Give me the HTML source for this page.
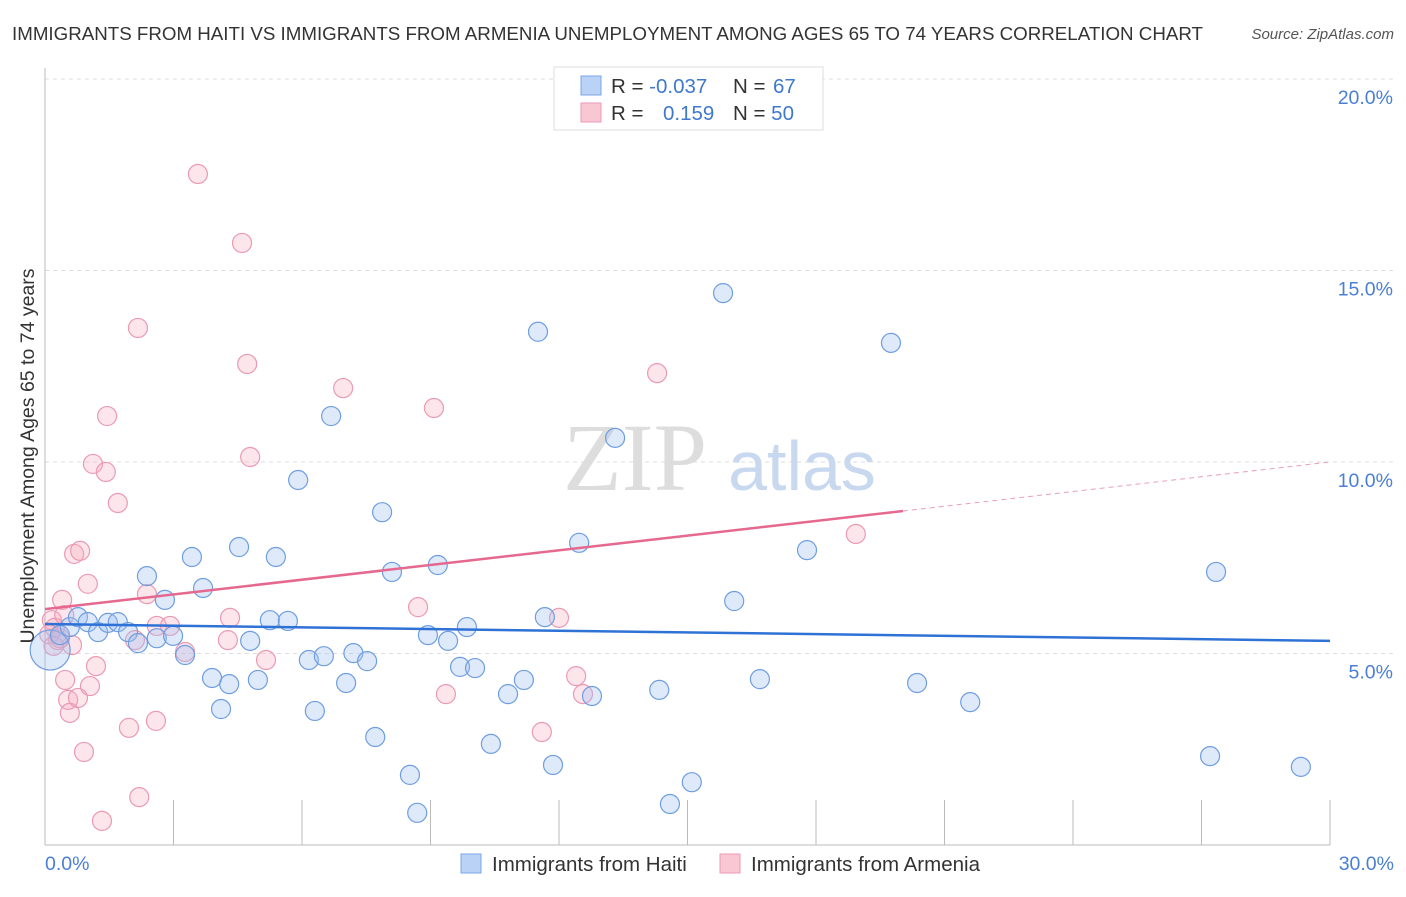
<!DOCTYPE html>
<html><head><meta charset="utf-8"><style>
body{margin:0;background:#fff;font-family:"Liberation Sans",sans-serif;}
</style></head><body>
<svg width="1406" height="892" viewBox="0 0 1406 892" xmlns="http://www.w3.org/2000/svg" font-family="Liberation Sans, sans-serif">
<text x="12" y="40" font-size="18.5" fill="#333" textLength="1191" lengthAdjust="spacingAndGlyphs">IMMIGRANTS FROM HAITI VS IMMIGRANTS FROM ARMENIA UNEMPLOYMENT AMONG AGES 65 TO 74 YEARS CORRELATION CHART</text>
<text x="1394" y="39" font-size="15" fill="#555" font-style="italic" text-anchor="end">Source: ZipAtlas.com</text>
<g id="grid"></g>
<g><text x="635" y="490" font-size="96" font-family="Liberation Serif, serif" fill="#ddd" text-anchor="middle">ZIP</text><text x="802" y="490" font-size="70" fill="#c8d8ef" text-anchor="middle">atlas</text></g>
<line x1="45" y1="68" x2="45" y2="845" stroke="#bbb"/>
<line x1="45" y1="845" x2="1330" y2="845" stroke="#bbb"/>
<g id="ticks"></g>
<g id="pts"></g>
<g id="lines"></g>
<text x="45" y="870" font-size="19.5" fill="#4a7fd4">0.0%</text>
<text x="1394" y="870" font-size="19.5" fill="#4a7fd4" text-anchor="end">30.0%</text>
<text transform="translate(34,456) rotate(-90)" font-size="19.5" fill="#333" text-anchor="middle">Unemployment Among Ages 65 to 74 years</text>
<g>
<rect x="554" y="67" width="269" height="63" fill="#fff" stroke="#ddd"/>
<rect x="581" y="76" width="20" height="19" fill="#b9d2f5" stroke="#7aa6e6"/>
<rect x="581" y="103" width="20" height="19" fill="#f9c6d4" stroke="#ec9ab3"/>
<text x="611" y="93" font-size="20.5" fill="#333">R = <tspan fill="#3f78cf">-0.037</tspan></text>
<text x="733" y="93" font-size="20.5" fill="#333">N = <tspan fill="#3f78cf" x="773">67</tspan></text>
<text x="611" y="120" font-size="20.5" fill="#333">R = <tspan fill="#3f78cf" x="663">0.159</tspan></text>
<text x="733" y="120" font-size="20.5" fill="#333">N = <tspan fill="#3f78cf">50</tspan></text>
</g>
<g>
<rect x="461" y="854" width="20" height="19" fill="#b9d2f5" stroke="#7aa6e6"/>
<text x="492" y="871" font-size="20.5" fill="#333">Immigrants from Haiti</text>
<rect x="720" y="854" width="20" height="19" fill="#f9c6d4" stroke="#ec9ab3"/>
<text x="751" y="871" font-size="20.5" fill="#333">Immigrants from Armenia</text>
</g>
</svg>
<script>
const yTicks=[5,10,15,20];
const yTickLabels=["5.0%","10.0%","15.0%","20.0%"];
const xTicks=[0,3,6,9,12,15,18,21,24,27,30];
const haitiX=[0.12,0.35,0.58,0.77,1.0,1.24,1.47,1.7,1.94,2.17,2.38,2.61,2.8,2.99,3.27,3.43,3.69,3.9,4.11,4.3,4.53,4.79,4.97,5.25,5.39,5.67,5.91,6.16,6.3,6.51,6.68,7.03,7.2,7.52,7.71,7.87,8.1,8.52,8.69,8.94,9.17,9.41,9.69,9.85,10.04,10.41,10.81,11.18,11.51,11.67,11.86,12.47,12.77,13.31,14.34,14.59,15.1,15.83,16.09,16.69,17.79,19.75,20.36,21.6,27.34,27.2,29.32];
const haitiY=[5.09,5.48,5.69,5.95,5.82,5.56,5.8,5.82,5.56,5.27,7.02,5.4,6.4,5.46,4.96,7.52,6.71,4.36,3.55,4.2,7.78,5.33,4.31,5.87,7.52,5.85,9.53,4.83,3.5,4.93,11.2,4.23,5.01,4.8,2.82,8.69,7.13,1.83,0.84,5.48,7.31,5.33,4.65,5.69,4.62,2.64,3.94,4.31,13.4,5.95,2.09,7.89,3.89,10.63,4.05,1.07,1.64,14.41,6.37,4.33,7.7,13.11,4.23,3.73,7.13,2.32,2.04];
const armeniaX=[0.16,0.23,0.3,0.4,0.47,0.54,0.58,0.63,0.68,0.82,0.77,0.91,1.0,1.05,1.12,1.19,1.33,1.42,1.45,1.7,1.96,2.17,2.2,2.38,2.59,2.61,2.92,3.27,3.57,4.27,4.32,4.6,4.72,4.79,5.16,6.96,8.71,9.08,9.36,11.6,12.0,12.4,12.56,14.29,18.93,2.1,0.1,0.35,0.2,0.45];
const armeniaY=[5.87,5.67,5.35,6.4,4.31,3.79,3.45,5.22,7.6,7.68,3.84,2.43,6.82,4.15,9.95,4.67,0.63,9.74,11.2,8.93,3.06,13.5,1.25,6.55,3.24,5.72,5.72,5.04,17.52,5.35,5.93,15.72,12.56,10.13,4.83,11.93,6.21,11.41,3.94,2.95,5.93,4.41,3.94,12.32,8.12,5.35,5.5,5.4,5.2,6.0];
const haitiTrend=[[0,5.77],[30,5.33]];
const armeniaTrend=[[0,6.16],[20.03,8.72],[30,10.0]];
const NS="http://www.w3.org/2000/svg";
const sx=v=>45+v/30*1285, sy=v=>845-v*38.3;
function mk(t,a,p){const e=document.createElementNS(NS,t);for(const k in a)e.setAttribute(k,a[k]);p.appendChild(e);return e;}
const grid=document.getElementById('grid');
yTicks.forEach((t,i)=>{const l=mk('line',{x1:45,x2:1394,y1:sy(t),y2:sy(t),stroke:'#ddd','stroke-dasharray':'4,4'},grid);


const tx=mk('text',{x:1393,y:sy(t)+25,'font-size':19.5,fill:'#4a7fd4','text-anchor':'end'},grid);tx.textContent=yTickLabels[i];

});
const tk=document.getElementById('ticks');
xTicks.forEach(t=>{const l=mk('line',{x1:sx(t),x2:sx(t),y1:800,y2:845,stroke:'#bbb'},tk);

});
const pts=document.getElementById('pts');
armeniaX.forEach((x,i)=>{const c=mk('circle',{cx:sx(x),cy:sy(armeniaY[i]),r:9.5,fill:'rgba(244,168,190,0.3)',stroke:'#eb9ab3','stroke-width':1.2},pts);

});
haitiX.forEach((x,i)=>{const c=mk('circle',{cx:sx(x),cy:sy(haitiY[i]),r:i==0?20:9.5,fill:'rgba(160,192,240,0.35)',stroke:'#6f9ee0','stroke-width':1.2},pts);

});
const ln=document.getElementById('lines');
let a=mk('line',{x1:sx(haitiTrend[0][0]),y1:sy(haitiTrend[0][1]),x2:sx(haitiTrend[1][0]),y2:sy(haitiTrend[1][1]),stroke:'#2f72d6','stroke-width':2.5},ln);


let b=mk('line',{x1:sx(armeniaTrend[0][0]),y1:sy(armeniaTrend[0][1]),x2:sx(armeniaTrend[1][0]),y2:sy(armeniaTrend[1][1]),stroke:'#e5688f','stroke-width':2.5},ln);


let c=mk('line',{x1:sx(armeniaTrend[1][0]),y1:sy(armeniaTrend[1][1]),x2:sx(armeniaTrend[2][0]),y2:sy(armeniaTrend[2][1]),stroke:'#e8a0b6','stroke-width':1,'stroke-dasharray':'5,4'},ln);


</script>
</body></html>
